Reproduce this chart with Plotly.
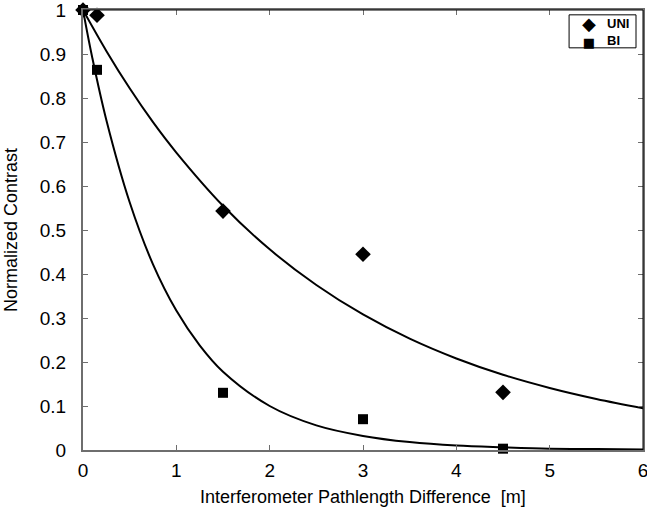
import plotly.graph_objects as go

# measured data points
uni_x = [0, 0.15, 1.5, 3.0, 4.5]
uni_y = [1.0, 0.988, 0.543, 0.445, 0.131]
bi_x = [0, 0.15, 1.5, 3.0, 4.5]
bi_y = [1.0, 0.864, 0.130, 0.070, 0.003]

# fitted curves
uni_fit_x = [0, 0.25, 0.5, 0.75, 1, 1.5, 2, 2.5, 3, 3.5, 4, 4.5, 5, 5.5, 6]
uni_fit_y = [1.0, 0.907, 0.822, 0.745, 0.676, 0.555, 0.456, 0.375, 0.308,
             0.253, 0.208, 0.171, 0.141, 0.116, 0.095]
bi_fit_x = [0, 0.1, 0.25, 0.5, 0.75, 1, 1.25, 1.5, 2, 2.5, 3, 3.5, 4, 4.5, 5, 5.5, 6]
bi_fit_y = [1.0, 0.891, 0.750, 0.563, 0.422, 0.317, 0.238, 0.178, 0.100, 0.056,
            0.032, 0.018, 0.010, 0.006, 0.003, 0.002, 0.001]

x_ticks = [0, 1, 2, 3, 4, 5, 6]
y_ticks = [0, 0.1, 0.2, 0.3, 0.4, 0.5, 0.6, 0.7, 0.8, 0.9, 1]
y_tick_text = ["0", "0.1", "0.2", "0.3", "0.4", "0.5", "0.6", "0.7", "0.8", "0.9", "1"]

series_names = ["UNI", "BI"]
legend_glyphs = ["<span style='font-size:18px'>\u25C6</span>", "\u25A0"]

FONT = "Liberation Sans, Arial, sans-serif"

fig = go.Figure()
fig.add_trace(go.Scatter(x=uni_fit_x, y=uni_fit_y, mode="lines", line=dict(color="black", width=2, shape="spline"),
                         showlegend=False, hoverinfo="skip"))
fig.add_trace(go.Scatter(x=bi_fit_x, y=bi_fit_y, mode="lines", line=dict(color="black", width=2, shape="spline"),
                         showlegend=False, hoverinfo="skip"))
fig.add_trace(go.Scatter(x=uni_x, y=uni_y, mode="markers", name=series_names[0], showlegend=False,
                         marker=dict(symbol="diamond", size=12, color="black"), cliponaxis=False))
fig.add_trace(go.Scatter(x=bi_x, y=bi_y, mode="markers", name=series_names[1], showlegend=False,
                         marker=dict(symbol="square", size=10, color="black"), cliponaxis=False))

axis_common = dict(showgrid=False, zeroline=False, showline=True, linecolor="#6e6e6e", linewidth=2,
                   ticks="inside", ticklen=5, tickcolor="#6e6e6e", tickwidth=1, automargin=False,
                   ticklabeloverflow="allow",
                   tickfont=dict(family=FONT, size=19, color="black"), mirror="ticks")

annotations = [
    dict(text="Interferometer Pathlength Difference  [m]", xref="x domain", yref="y domain",
         x=0.5, y=0, yshift=-47, xanchor="center", yanchor="middle", showarrow=False,
         font=dict(family=FONT, size=18, color="black")),
    dict(text="Normalized Contrast", xref="x domain", yref="y domain", textangle=-90,
         x=0, y=0.5, xshift=-72, xanchor="center", yanchor="middle", showarrow=False,
         font=dict(family=FONT, size=18, color="black")),
    # legend: symbols column and names column
    dict(text="<br>".join(legend_glyphs), xref="x domain", yref="y domain", x=0.903, y=0.951,
         xanchor="center", yanchor="middle", showarrow=False, align="center",
         font=dict(family="DejaVu Sans", size=13, color="black")),
    dict(text="<br>".join("<b>%s</b>" % n for n in series_names), xref="x domain", yref="y domain",
         x=0.933, y=0.951, xanchor="left", yanchor="middle", showarrow=False, align="left",
         font=dict(family=FONT, size=13, color="black")),
]

fig.update_layout(
    width=647, height=521,
    margin=dict(l=83, r=4, t=10, b=71),
    paper_bgcolor="white", plot_bgcolor="white",
    font=dict(family=FONT, color="black"),
    showlegend=False,
    xaxis=dict(range=[0, 6], tickvals=x_ticks, ticktext=[str(v) for v in x_ticks], ticklabelstandoff=2,
               **axis_common),
    yaxis=dict(range=[0, 1], tickvals=y_ticks, ticktext=y_tick_text, ticklabelstandoff=11,
               **axis_common),
    annotations=annotations,
    shapes=[
        dict(type="line", xref="x domain", yref="y domain", x0=0, x1=1, y0=1, y1=1, line=dict(color="black", width=1)),
        dict(type="line", xref="x domain", yref="y domain", x0=1, x1=1, y0=0, y1=1, line=dict(color="black", width=1)),
        dict(type="rect", xref="x domain", yref="y domain", x0=0.868, x1=0.9875, y0=0.914, y1=0.989,
             line=dict(color="black", width=1), fillcolor="white", layer="below"),
    ],
)

fig.write_html("out.html")
